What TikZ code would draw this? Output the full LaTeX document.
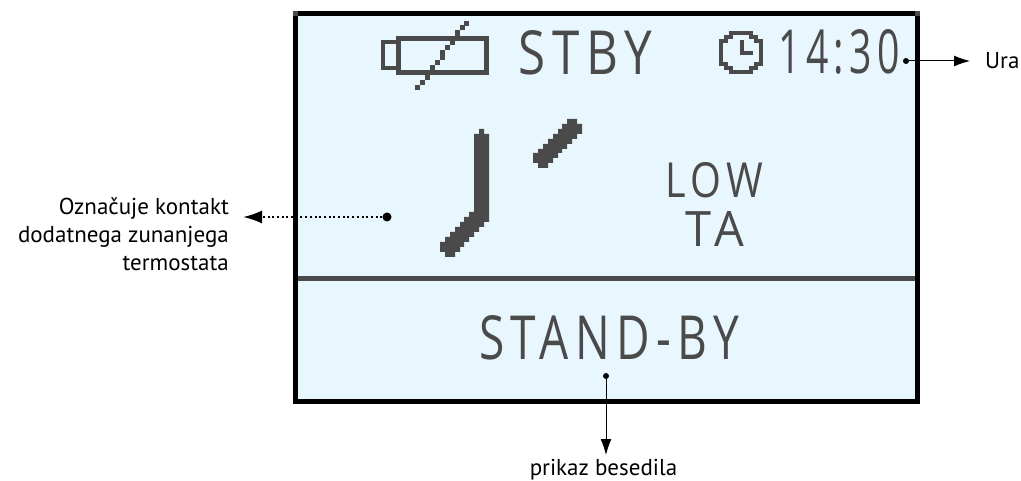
\documentclass[tikz,border=0pt]{standalone}
\usepackage{fontspec}
\setmainfont{PT Sans}
\newfontfamily\lcdfont[LetterSpace=14]{Open Sans}
\usetikzlibrary{arrows.meta}
\definecolor{lcdback}{HTML}{E8F6FD}
\definecolor{lcdink}{HTML}{4A4A4A}
\newcommand{\lcdword}[3]{\resizebox{#1pt}{#2pt}{\lcdfont #3}}

\begin{document}
\begin{tikzpicture}[x=1pt, y=-1pt, >={Latex[length=16pt,width=11pt]}]
    \tikzset{
        a/.style={->, line width=1pt},
        dotline/.style={->, line width=2pt, dash pattern=on 2pt off 2.7pt},
        pin/.style={circle, fill=black, inner sep=0pt, minimum size=#1},
        lbl/.style={inner sep=0pt, font=\fontsize{23}{28}\selectfont},
        word/.style={inner sep=0pt, anchor=south west, text=lcdink},
        ink/.style={draw=lcdink, line width=5pt},
        thin ink/.style={draw=lcdink, line width=4pt}
    }
    \useasboundingbox (0,0) rectangle (1021,481);

    % display
    \draw [fill=lcdback, draw=black, line width=5pt] (295.5,13.5) rectangle (917.5,401.5);
    \fill [lcdink] (293,11) rectangle (298,16);
    \fill [lcdink] (915,11) rectangle (920,16);
    \draw [ink] (298,278.5) -- (915,278.5);

    % battery
    \draw [ink] (398.5,38.5) rectangle (486.5,72.5);
    \draw [thin ink] (396,42) -- (383,42) -- (383,68) -- (396,68);
    \foreach \x/\y/\h in {415/85/5, 420/80/5, 425/75/5, 430/65/5, 435/60/5, 440/50/10, 445/45/5, 450/40/5, 455/30/10, 460/25/5, 464/21/5}
        \fill [lcdink] (\x,\y) rectangle ++(5,\h);

    % clock
    \draw [thin ink] (731,33) -- (751,33) -- (751,37) -- (756,37) -- (756,41) -- (761,41) -- (761,64) -- (756,64) -- (756,68) -- (751,68) -- (751,72) -- (731,72) -- (731,68) -- (726,68) -- (726,64) -- (721,64) -- (721,41) -- (726,41) -- (726,37) -- (731,37) -- cycle;
    \draw [thin ink] (742,40) -- (742,53) -- (753,53);

    % hands
    \fill [lcdink] (479,129) -- (484,129) -- (484,134) -- (489,134) -- (489,222) -- (484,222) -- (484,227) -- (479,227) -- (479,232) -- (474,232) -- (474,237) -- (469,237) -- (469,242) -- (464,242) -- (464,247) -- (460,247) -- (460,252) -- (455,252) -- (455,257) -- (445,257) -- (445,252) -- (440,252) -- (440,242) -- (445,242) -- (445,237) -- (450,237) -- (450,232) -- (455,232) -- (455,227) -- (460,227) -- (460,222) -- (464,222) -- (464,217) -- (469,217) -- (469,212) -- (474,212) -- (474,134) -- (479,134) -- cycle;
    \fill [lcdink] (567,119) -- (577,119) -- (577,124) -- (582,124) -- (582,134) -- (577,134) -- (577,139) -- (572,139) -- (572,144) -- (567,144) -- (567,149) -- (562,149) -- (562,153) -- (558,153) -- (558,158) -- (553,158) -- (553,163) -- (548,163) -- (548,168) -- (538,168) -- (538,163) -- (533,163) -- (533,153) -- (538,153) -- (538,149) -- (543,149) -- (543,144) -- (548,144) -- (548,139) -- (553,139) -- (553,134) -- (558,134) -- (558,129) -- (562,129) -- (562,124) -- (567,124) -- cycle;

    % display texts
    \node [word] (stby) at (518,75) {\lcdword{134}{44}{STBY}};
    \node [word] (time) at (778,75) {\lcdword{122}{44}{14:30}};
    \node [word] (low) at (665,198) {\lcdword{98}{35}{LOW}};
    \node [word] (ta) at (685,247) {\lcdword{59}{35}{TA}};
    \node [word] (standby) at (479,360) {\lcdword{260}{44}{STAND-BY}};

    % pointers
    \node [pin=6pt] (uraPin) at (906,61) {};
    \node [pin=9pt] (kontaktPin) at (387,217) {};
    \node [pin=6pt] (tekstPin) at (606,376) {};
    \coordinate (uraTip) at (970,61);
    \coordinate (kontaktTip) at (243,217);
    \coordinate (tekstTip) at (606,455);
    \draw [a] (uraPin) -- (uraTip);
    \draw [dotline, >={Latex[length=19pt,width=13pt]}] (kontaktPin) -- (kontaktTip);
    \draw [a] (tekstPin) -- (tekstTip);

    \node [lbl, anchor=base west] (ura) at (985,69) {Ura};
    \node [lbl, anchor=north east, align=right] (kontakt) at (229,197) {Označuje kontakt\\dodatnega zunanjega\\termostata};
    \node [lbl, anchor=base] (besedila) at (603.5,475) {prikaz besedila};
\end{tikzpicture}
\end{document}
